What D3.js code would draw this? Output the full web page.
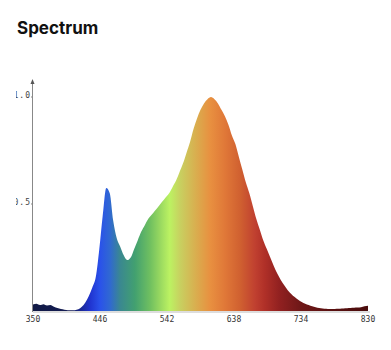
<!DOCTYPE html>
<html>
<head>
<meta charset="utf-8">
<script src="https://cdn.jsdelivr.net/npm/d3@7"></script>
<style>
  body { margin: 0; background: #fff; }
  svg { display: block; }
</style>
</head>
<body>
<div id="chart"></div>
<script>
// wavelengths (nm), 5 nm steps
const wavelengths = d3.range(350, 831, 5);

// relative intensity
const intensity = [
  0.030, 0.034, 0.028, 0.032, 0.026, 0.028, 0.020, 0.014, 0.009, 0.006,
  0.004, 0.003, 0.004, 0.008, 0.020, 0.040, 0.070, 0.110, 0.160, 0.290,
  0.450, 0.575, 0.550, 0.420, 0.340, 0.300, 0.260, 0.238, 0.250, 0.290,
  0.330, 0.370, 0.400, 0.430, 0.450, 0.470, 0.490, 0.510, 0.530, 0.550,
  0.580, 0.610, 0.650, 0.690, 0.740, 0.790, 0.850, 0.900, 0.940, 0.970,
  0.990, 1.000, 0.990, 0.970, 0.940, 0.910, 0.870, 0.820, 0.780, 0.720,
  0.660, 0.600, 0.550, 0.490, 0.430, 0.380, 0.330, 0.290, 0.250, 0.210,
  0.175, 0.145, 0.120, 0.097, 0.080, 0.065, 0.052, 0.042, 0.034, 0.028,
  0.022, 0.018, 0.014, 0.012, 0.010, 0.009, 0.009, 0.010, 0.011, 0.012,
  0.013, 0.014, 0.015, 0.016, 0.018, 0.022, 0.024
];

const xTicks = [350, 446, 542, 638, 734, 830];
const yTicks = [0.5, 1.0];

// colour of the fill along the spectrum
const colorStops = [350, 405, 432, 446, 460, 475, 496, 518, 532, 546, 561, 582, 604, 625, 647, 668, 682, 704, 732, 775, 830];
const colorValues = ["#111a45", "#141c55", "#2034d0", "#2a52ea", "#3068d2", "#3a8890", "#42a070", "#70c060", "#98d860", "#bcf262", "#c8d060", "#d8b050", "#e89040", "#e07838", "#d06030", "#c04030", "#b03028", "#902020", "#701818", "#5a1010", "#4a0c0c"];

const width = 391, height = 350;

const svg = d3.select("#chart")
  .append("svg")
  .attr("width", width)
  .attr("height", height);

svg.append("text")
  .attr("x", 17)
  .attr("y", 34)
  .attr("font-family", "Inter, sans-serif")
  .attr("font-weight", 700)
  .attr("font-size", 17)
  .attr("fill", "#111")
  .text("Spectrum");

const x = d3.scaleLinear().domain([350, 830]).range([33, 368]);
const y = d3.scaleLinear().domain([0, 1]).range([311, 97]);

const data = wavelengths.map((w, i) => ({ w: w, v: intensity[i] }));

// gradient along the wavelength axis
const defs = svg.append("defs");
const grad = defs.append("linearGradient")
  .attr("id", "spec")
  .attr("gradientUnits", "userSpaceOnUse")
  .attr("x1", x(350)).attr("x2", x(830))
  .attr("y1", 0).attr("y2", 0);
grad.selectAll("stop")
  .data(colorStops)
  .enter()
  .append("stop")
  .attr("offset", d => (d - 350) / 480)
  .attr("stop-color", (d, i) => colorValues[i]);

defs.append("clipPath")
  .attr("id", "labelClip")
  .append("rect")
  .attr("x", 16).attr("y", 0)
  .attr("width", width).attr("height", height);

const area = d3.area()
  .x(d => x(d.w))
  .y0(y(0))
  .y1(d => y(d.v))
  .curve(d3.curveMonotoneX);

svg.append("path")
  .datum(data)
  .attr("d", area)
  .attr("fill", "url(#spec)");

// axes
svg.append("line")
  .attr("x1", x(350)).attr("x2", x(830) + 2)
  .attr("y1", y(0) + 1).attr("y2", y(0) + 1)
  .attr("stroke", "#bbb")
  .attr("stroke-width", 1);

svg.append("line")
  .attr("x1", x(350) - 0.5).attr("x2", x(350) - 0.5)
  .attr("y1", 82).attr("y2", y(0) + 1)
  .attr("stroke", "#888")
  .attr("stroke-width", 1);

svg.append("path")
  .attr("d", `M${x(350) - 0.5},79 l-2,5 h4 z`)
  .attr("fill", "#555");

svg.append("g")
  .selectAll("text")
  .data(xTicks)
  .enter()
  .append("text")
  .attr("x", d => x(d))
  .attr("y", 322)
  .attr("text-anchor", "middle")
  .attr("font-family", "DejaVu Sans Mono, monospace")
  .attr("font-size", 8)
  .attr("fill", "#333")
  .text(d => d);

svg.append("g")
  .attr("clip-path", "url(#labelClip)")
  .selectAll("text")
  .data(yTicks)
  .enter()
  .append("text")
  .attr("x", x(350) - 2)
  .attr("y", d => y(d) + 1)
  .attr("text-anchor", "end")
  .attr("font-family", "DejaVu Sans Mono, monospace")
  .attr("font-size", 8)
  .attr("letter-spacing", 1)
  .attr("fill", "#444")
  .text(d => d.toFixed(1));

svg.append("g")
  .selectAll("line")
  .data(yTicks)
  .enter()
  .append("line")
  .attr("x1", x(350) - 2).attr("x2", x(350))
  .attr("y1", d => y(d)).attr("y2", d => y(d))
  .attr("stroke", "#888");
</script>
</body>
</html>
